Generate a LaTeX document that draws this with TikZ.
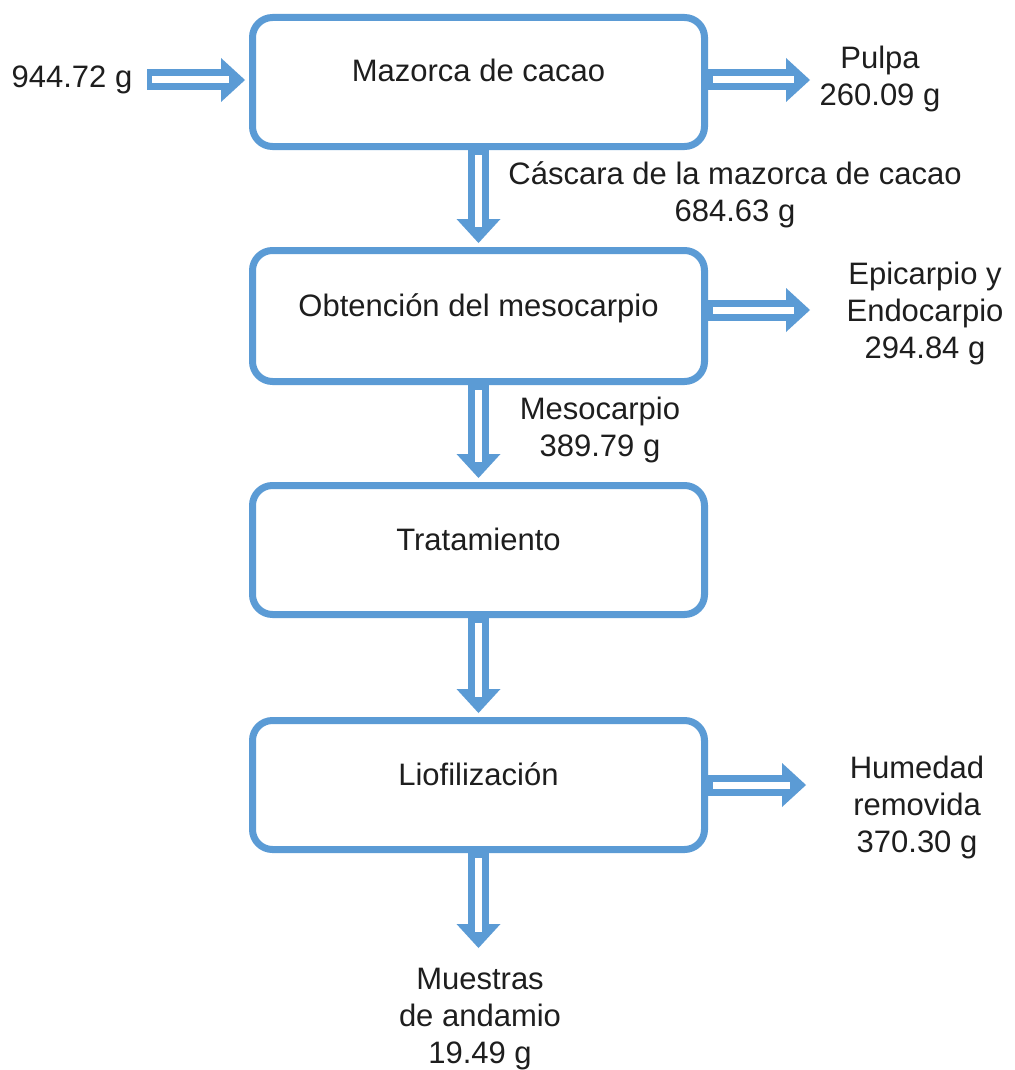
\documentclass[tikz,border=0pt]{standalone}
\usepackage{fontspec}
\setmainfont{Liberation Sans}
\usetikzlibrary{arrows.meta}
\definecolor{blu}{RGB}{91,155,213}
\definecolor{txt}{RGB}{30,30,30}
\begin{document}
\begin{tikzpicture}[x=1pt,y=-1pt,
  box/.style={draw=blu, line width=7pt, rounded corners=20pt, minimum width=452pt, minimum height=129pt, inner sep=0pt, text height=20pt, text depth=20pt, text=txt, font=\fontsize{31}{37}\selectfont},
  lbl/.style={align=center, inner sep=0pt, text=txt, font=\fontsize{31}{37}\selectfont},
  flow/.style={draw=blu, line width=21pt, shorten >=#1, -{Triangle[length=24pt, width=44pt, line width=0pt]}, postaction={draw=white, line width=7pt, -, shorten <=5pt, shorten >=#1+16pt}},
  flow/.default=0pt]
\useasboundingbox (0,0) rectangle (1014,1070);
\fill[white] (0,0) rectangle (1014,1070);

\node[box] (b1) at (478.5, 82) {Mazorca de cacao};
\node[box, minimum height=131pt] (b2) at (478.5, 316) {Obtención del mesocarpio};
\node[box] (b3) at (478.5, 550) {Tratamiento};
\node[box] (b4) at (478.5, 785) {Liofilización};

\node[lbl] (in) at (72, 80) {944.72 g};
\node[lbl] (pulpa) at (880, 79) {Pulpa\\260.09 g};
\node[lbl] (casc) at (735, 195) {Cáscara de la mazorca de cacao\\684.63 g};
\node[lbl] (epi) at (925, 313) {Epicarpio y\\Endocarpio\\294.84 g};
\node[lbl] (meso) at (600, 430) {Mesocarpio\\389.79 g};
\node[lbl] (hum) at (917, 807) {Humedad\\removida\\370.30 g};
\node[lbl] (mue) at (480, 1019) {Muestras\\de andamio\\19.49 g};

\coordinate (inS) at (147, 80);
\coordinate (pT) at (810, 80);
\coordinate (eT) at (810, 310);
\coordinate (hT) at (806, 785);
\coordinate (mT) at (478.5, 948);

\draw[flow=4pt] (inS) -- (inS -| b1.west);
\draw[flow] (pT -| b1.east) -- (pT);
\draw[flow=4pt] (b1.south) -- (b2.north);
\draw[flow] (eT -| b2.east) -- (eT);
\draw[flow=4pt] (b2.south) -- (b3.north);
\draw[flow=4pt] (b3.south) -- (b4.north);
\draw[flow] (b4.east) -- (hT);
\draw[flow] (b4.south) -- (mT);
\end{tikzpicture}
\end{document}
